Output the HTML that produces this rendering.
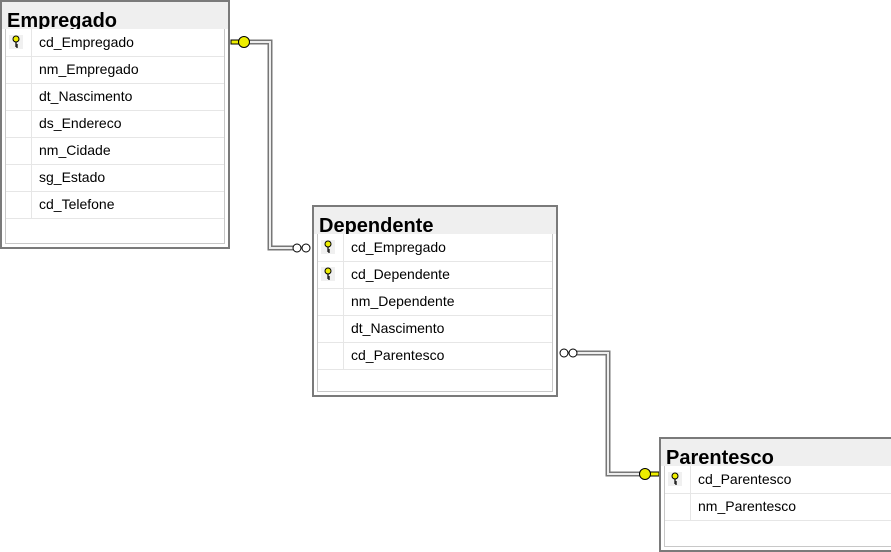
<!DOCTYPE html>
<html><head><style>
body{margin:0;width:891px;height:546px;background:#fff;position:relative;overflow:hidden;font-family:"Liberation Sans",sans-serif}
.t{position:absolute;background:#fff;border:2px solid #7a7a7a;box-sizing:border-box}
.t .h{position:absolute;left:0;right:0;top:0;background:#efefef;font-weight:bold;font-size:20px;padding-left:5px;line-height:38px;overflow:hidden;height:27px;color:#000}
.t .g{position:absolute;left:3px;right:3px;top:27px;bottom:3px;border:1px solid #c8c8c8;border-top:none;background:#fff}
.r{position:absolute;left:0;right:0;height:27px;border-bottom:1px solid #e6e6e6;font-size:14px;line-height:26px;color:#000}
.r span{position:absolute;left:33px}
.k{position:absolute;left:0;top:0;width:25px;height:27px;border-right:1px solid #e6e6e6}
.kk{position:absolute;left:3px;top:6px;width:14px;height:14px;background:#f0f0f0}
</style></head><body>
<svg width="891" height="546" style="position:absolute;left:0;top:0">
<defs>
<symbol id="key" viewBox="0 0 14 14"><circle cx="7" cy="4" r="3" fill="#ee0" stroke="#000" stroke-width="1"/><path d="M7 7V12M7 10H9M7 12H9" stroke="#000" stroke-width="1.2" fill="none"/></symbol>
</defs>
<g fill="none">
<path d="M240 42H270V248H300" stroke="#777" stroke-width="5"/>
<path d="M240 42H270V248H300" stroke="#eee" stroke-width="2"/>
<path d="M570 353H608V474H645" stroke="#777" stroke-width="5"/>
<path d="M570 353H608V474H645" stroke="#eee" stroke-width="2"/>
</g>
<g stroke="#000" stroke-width="1">
<circle cx="297" cy="248" r="4" fill="#fff"/><circle cx="306" cy="248" r="4" fill="#fff"/>
<circle cx="564" cy="353" r="4" fill="#fff"/><circle cx="573" cy="353" r="4" fill="#fff"/>
<rect x="231" y="40" width="9" height="4" fill="#ee0"/><circle cx="244" cy="42" r="5.5" fill="#ee0"/>
<rect x="649" y="472" width="10" height="4" fill="#ee0"/><circle cx="645" cy="474" r="5.5" fill="#ee0"/>
</g>
</svg>

<div class="t" style="left:0;top:0;width:230px;height:249px">
<div class="h">Empregado</div>
<div class="g">
<div class="r" style="top:0"><div class="k"><svg class="kk" viewBox="0 0 14 14"><use href="#key"/></svg></div><span>cd_Empregado</span></div>
<div class="r" style="top:27px"><div class="k"></div><span>nm_Empregado</span></div>
<div class="r" style="top:54px"><div class="k"></div><span>dt_Nascimento</span></div>
<div class="r" style="top:81px"><div class="k"></div><span>ds_Endereco</span></div>
<div class="r" style="top:108px"><div class="k"></div><span>nm_Cidade</span></div>
<div class="r" style="top:135px"><div class="k"></div><span>sg_Estado</span></div>
<div class="r" style="top:162px"><div class="k"></div><span>cd_Telefone</span></div>
</div></div>

<div class="t" style="left:312px;top:205px;width:246px;height:192px">
<div class="h">Dependente</div>
<div class="g">
<div class="r" style="top:0"><div class="k"><svg class="kk" viewBox="0 0 14 14"><use href="#key"/></svg></div><span>cd_Empregado</span></div>
<div class="r" style="top:27px"><div class="k"><svg class="kk" viewBox="0 0 14 14"><use href="#key"/></svg></div><span>cd_Dependente</span></div>
<div class="r" style="top:54px"><div class="k"></div><span>nm_Dependente</span></div>
<div class="r" style="top:81px"><div class="k"></div><span>dt_Nascimento</span></div>
<div class="r" style="top:108px"><div class="k"></div><span>cd_Parentesco</span></div>
</div></div>

<div class="t" style="left:659px;top:437px;width:240px;height:115px">
<div class="h">Parentesco</div>
<div class="g">
<div class="r" style="top:0"><div class="k"><svg class="kk" viewBox="0 0 14 14"><use href="#key"/></svg></div><span>cd_Parentesco</span></div>
<div class="r" style="top:27px"><div class="k"></div><span>nm_Parentesco</span></div>
</div></div>
</body></html>
